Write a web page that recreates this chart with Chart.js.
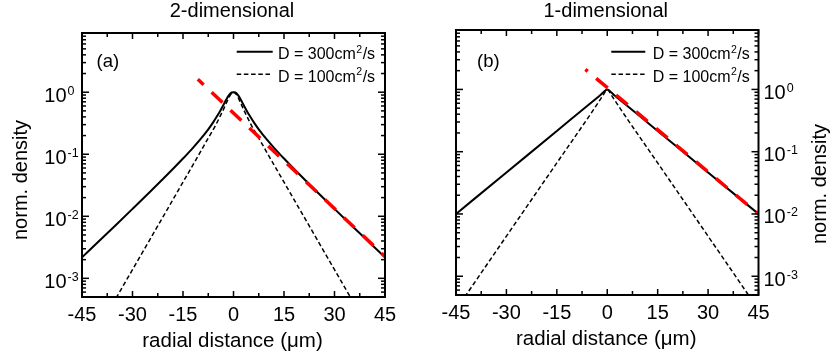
<!DOCTYPE html>
<html><head><meta charset="utf-8">
<script src="https://cdn.jsdelivr.net/npm/chart.js@4.4.0/dist/chart.umd.min.js"></script>
<style>
html,body{margin:0;padding:0;background:#fff;overflow:hidden;width:832px;height:361px}
canvas{position:absolute;top:0}
#ca{left:0}#cb{left:416px}
</style></head>
<body>
<canvas id="ca" width="416" height="361"></canvas>
<canvas id="cb" width="416" height="361"></canvas>
<script>
// ---------- texts ----------
const panelTitles = ["2-dimensional", "1-dimensional"];
const panelTags = ["(a)", "(b)"];
const xAxisTitle = "radial distance (μm)";
const yAxisTitle = "norm. density";
const seriesLabels = ["D = 300cm²/s", "D = 100cm²/s"];

// ---------- ticks ----------
const xMajorTicks = [-45, -30, -15, 0, 15, 30, 45];
const xMinorTicks = [-37.5, -22.5, -7.5, 7.5, 22.5, 37.5];
const yMajorTicks = [1, 0.1, 0.01, 0.001];
const yTickExponents = ["0", "-1", "-2", "-3"];
const yMinorTicks = [0.0006,0.0007,0.0008,0.0009,
  0.002,0.003,0.004,0.005,0.006,0.007,0.008,0.009,
  0.02,0.03,0.04,0.05,0.06,0.07,0.08,0.09,
  0.2,0.3,0.4,0.5,0.6,0.7,0.8,0.9,
  2,3,4,5,6,7,8,9];

// ---------- panel (a): 2-dimensional ----------
const x2dSolid = [-45,-40,-35,-30,-25,-20,-17.5,-15,-12.5,-10,-7.5,-6,-5,-4,-3,-2.5,-2,-1.5,-1,-0.5,0,
                  0.5,1,1.5,2,2.5,3,4,5,6,7.5,10,12.5,15,17.5,20,25,30,35,40,45];
const y2dSolid = [0.00218,0.00395,0.00719,0.01315,0.0242,0.0451,0.0618,0.0853,0.119,0.170,0.252,0.330,0.401,0.495,0.624,0.700,0.785,0.871,0.944,0.989,1.0,
                  0.989,0.944,0.871,0.785,0.700,0.624,0.495,0.401,0.330,0.252,0.170,0.119,0.0853,0.0618,0.0451,0.0242,0.01315,0.00719,0.00395,0.00218];
const x2dDashed = [-37,-34.5,-30,-25,-20,-15,-12.5,-10,-7.5,-6,-5,-4,-3,-2.5,-2,-1.5,-1,-0.5,0,
                   0.5,1,1.5,2,2.5,3,4,5,6,7.5,10,12.5,15,20,25,30,34.5,37];
const y2dDashed = [0.0003,0.00052,0.00138,0.00407,0.0120,0.0355,0.061,0.105,0.182,0.251,0.316,0.407,0.525,0.603,0.692,0.794,0.891,0.966,1.0,
                   0.966,0.891,0.794,0.692,0.603,0.525,0.407,0.316,0.251,0.182,0.105,0.061,0.0355,0.0120,0.00407,0.00138,0.00052,0.0003];
const x2dFit = [-10.6, 45];
const y2dFit = [1.62, 0.00225];

// ---------- panel (b): 1-dimensional ----------
const x1dSolid = [-45,-30,-15,-5,-3,-2,-1,-0.5,0,0.5,1,2,3,5,15,30,45];
const y1dSolid = [0.01,0.0464,0.215,0.60,0.735,0.815,0.92,0.97,1.0,0.97,0.92,0.815,0.735,0.60,0.215,0.0464,0.01];
const x1dDashed = [-46,-42,-30,-15,-5,-2,-1,-0.5,0,0.5,1,2,5,15,30,42,46];
const y1dDashed = [0.00024,0.0005,0.0044,0.066,0.40,0.70,0.85,0.94,1.0,0.94,0.85,0.70,0.40,0.066,0.0044,0.0005,0.00024];
const x1dFit = [-6.5, 45];
const y1dFit = [2.1, 0.01];

const Y_MIN = 0.0005, Y_MAX = 9.0;
const FONT = '"Liberation Sans", Arial, Helvetica, sans-serif';

function pts(xs, ys){ return xs.map((x,i)=>({x:x, y:ys[i]})); }

function drawSupText(ctx, parts, x, y, bigSize, supSize, rise){
  ctx.textAlign = 'left';
  ctx.font = bigSize + 'px ' + FONT;
  ctx.fillText(parts[0], x, y);
  const w = ctx.measureText(parts[0]).width;
  ctx.font = supSize + 'px ' + FONT;
  ctx.fillText(parts[1], x + w + 0.5, y - rise);
  const w2 = ctx.measureText(parts[1]).width;
  if (parts[2]) {
    ctx.font = bigSize + 'px ' + FONT;
    ctx.fillText(parts[2], x + w + w2 + 1, y);
  }
}

const panelPlugin = {
  id: 'panel',
  afterDraw(chart){
    const o = chart.options.plugins.panel;
    const ctx = chart.ctx, a = chart.chartArea;
    const xs = chart.scales.x, ys = chart.scales.y;
    ctx.save();
    ctx.fillStyle = '#000';
    ctx.strokeStyle = '#000';
    ctx.lineWidth = 1.5;
    const seg = (x0,y0,x1,y1)=>{ctx.beginPath();ctx.moveTo(x0,y0);ctx.lineTo(x1,y1);ctx.stroke();};
    xMajorTicks.forEach(v=>{const x=xs.getPixelForValue(v); seg(x,a.bottom,x,a.bottom-6); seg(x,a.top,x,a.top+6);});
    xMinorTicks.forEach(v=>{const x=xs.getPixelForValue(v); seg(x,a.bottom,x,a.bottom-4); seg(x,a.top,x,a.top+4);});
    yMajorTicks.forEach(v=>{const y=ys.getPixelForValue(v); seg(a.left,y,a.left+7,y); seg(a.right,y,a.right-7,y);});
    yMinorTicks.forEach(v=>{const y=ys.getPixelForValue(v); if(y<a.top||y>a.bottom)return; seg(a.left,y,a.left+4,y); seg(a.right,y,a.right-4,y);});
    ctx.lineWidth = 2;
    ctx.strokeRect(a.left, a.top, a.right-a.left, a.bottom-a.top);
    // x tick labels
    ctx.font = '20px ' + FONT;
    ctx.textAlign = 'center';
    ctx.textBaseline = 'alphabetic';
    xMajorTicks.forEach(v=>{ctx.fillText(String(v), xs.getPixelForValue(v), a.bottom + 23.5);});
    // y tick labels
    yMajorTicks.forEach((v,i)=>{
      const y = ys.getPixelForValue(v);
      ctx.font = '20px ' + FONT;
      if (o.side === 'left') {
        ctx.textAlign = 'right';
        ctx.fillText('10', a.left - 15.5, y + 9.3);
        ctx.textAlign = 'left';
        ctx.font = '12.5px ' + FONT;
        ctx.fillText(yTickExponents[i], a.left - 14.5, y + 2.5);
      } else {
        ctx.textAlign = 'left';
        ctx.fillText('10', a.right + 5, y + 9.3);
        const w = ctx.measureText('10').width;
        ctx.font = '12.5px ' + FONT;
        ctx.fillText(yTickExponents[i], a.right + 5 + w + 1, y + 2.5);
      }
    });
    // axis titles
    ctx.font = '20.5px ' + FONT;
    ctx.textAlign = 'center';
    ctx.fillText(xAxisTitle, (a.left+a.right)/2 - 1, a.bottom + 50);
    ctx.font = '20px ' + FONT;
    ctx.fillText(panelTitles[o.idx], (a.left+a.right)/2 - 1.5, 16.5);
    ctx.save();
    ctx.translate(o.yTitleX, o.yTitleY);
    ctx.rotate(-Math.PI/2);
    ctx.font = '20px ' + FONT;
    ctx.fillText(yAxisTitle, 0, 0);
    ctx.restore();
    // panel tag
    ctx.font = '18.5px ' + FONT;
    ctx.textAlign = 'left';
    ctx.fillText(panelTags[o.idx], a.left + o.tagDX, 66.5);
    // legend
    const styles = [{w:2, dash:[]},{w:1.5, dash:[4.5,2.7]}];
    seriesLabels.forEach((lab,i)=>{
      const ly = 51.7 + i*22.5;
      ctx.lineWidth = styles[i].w;
      ctx.setLineDash(styles[i].dash);
      seg(o.legX0, ly, o.legX1, ly);
      ctx.setLineDash([]);
      const k = lab.indexOf('²');
      drawSupText(ctx, [lab.slice(0,k), '2', lab.slice(k+1)], o.legTX, ly + 7.5, 16, 10.5, 6.5);
    });
    ctx.restore();
  }
};

function makeChart(id, idx, sets, layoutPad, panelOpts){
  return new Chart(document.getElementById(id), {
    type: 'line',
    data: { datasets: sets },
    options: {
      responsive: false, animation: false, devicePixelRatio: 1, events: [],
      layout: { padding: layoutPad },
      scales: {
        x: { type: 'linear', min: -45, max: 45, display: false },
        y: { type: 'logarithmic', min: Y_MIN, max: Y_MAX, display: false }
      },
      plugins: { legend: {display:false}, tooltip: {enabled:false}, title:{display:false},
                 panel: Object.assign({idx: idx}, panelOpts) },
      elements: { point: { radius: 0 } }
    },
    plugins: [panelPlugin]
  });
}

function sets(xs1, ys1, xs2, ys2, xf, yf, dashOff){
  return [
    { data: pts(xf, yf), borderColor: '#ff0000', borderWidth: 3.5, borderDash: [15, 11], borderDashOffset: dashOff, order: 0, tension: 0, pointRadius: 0 },
    { data: pts(xs1, ys1), borderColor: '#000', borderWidth: 2, cubicInterpolationMode: 'monotone', order: 2, pointRadius: 0 },
    { data: pts(xs2, ys2), borderColor: '#000', borderWidth: 1.5, borderDash: [4.5, 2.7], cubicInterpolationMode: 'monotone', order: 1, pointRadius: 0 }
  ];
}

makeChart('ca', 0, sets(x2dSolid, y2dSolid, x2dDashed, y2dDashed, x2dFit, y2dFit, 7),
  {left: 82, right: 31, top: 33, bottom: 64},
  {side: 'left', yTitleX: 27, yTitleY: 180, tagDX: 14.5, legX0: 236.7, legX1: 272.7, legTX: 278});
makeChart('cb', 1, sets(x1dSolid, y1dSolid, x1dDashed, y1dDashed, x1dFit, y1dFit, 12),
  {left: 40, right: 73.5, top: 30, bottom: 66},
  {side: 'right', yTitleX: 410, yTitleY: 184, tagDX: 21, legX0: 611.3-416, legX1: 645.3-416, legTX: 652.7-416});
</script>
</body></html>
